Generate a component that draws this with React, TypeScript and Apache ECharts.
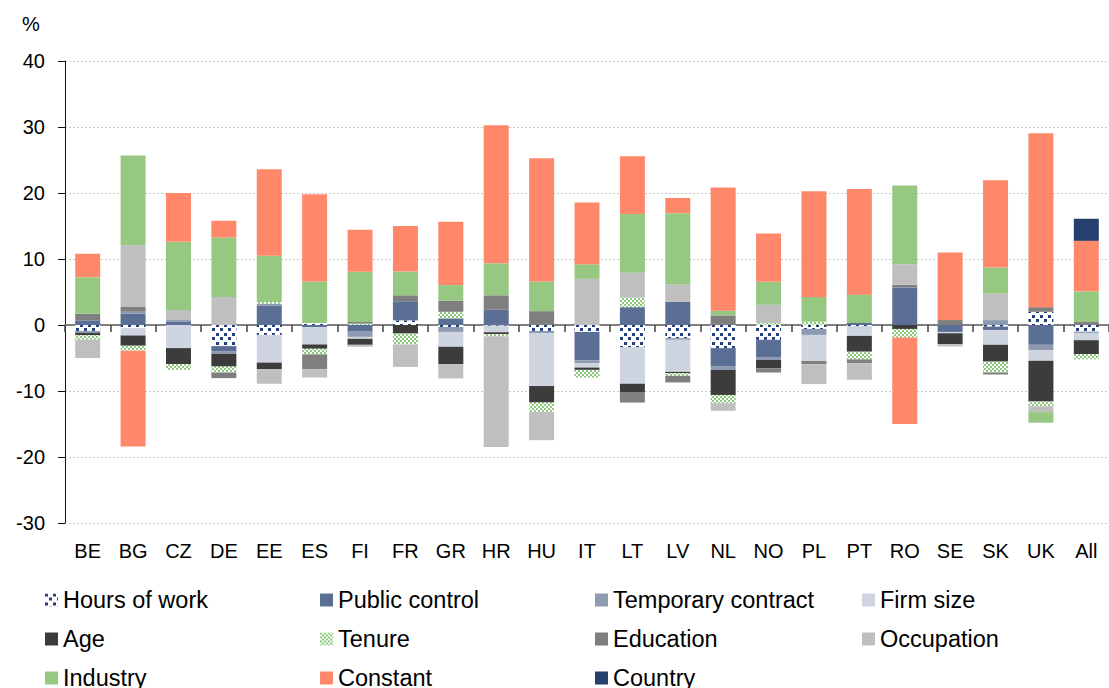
import React, { useEffect, useRef } from "react";
import * as echarts from "echarts";

const categories = ["BE","BG","CZ","DE","EE","ES","FI","FR","GR","HR","HU","IT","LT","LV","NL","NO","PL","PT","RO","SE","SK","UK","All"];

const hoursOfWork = [-0.9,-0.5,0,-3.2,-1.5,0.3,0,0.7,-0.3,-0.1,-0.9,-1.05,-3.35,-2.0,-3.5,-2.25,-0.6,-0.15,0,0,-0.25,2.0,-1.0];
const publicControl = [0.7,1.75,0.55,-0.75,2.9,-0.3,-1.0,2.9,1.0,2.3,0,-4.3,2.7,3.5,-2.8,-2.7,0,0.3,5.6,-1.05,-0.5,-3.0,0];
const temporaryContract = [-0.3,0.25,0.2,-0.4,0.35,0,-0.8,0,-0.75,0,-0.35,-0.45,0,-0.25,-0.5,-0.35,-0.9,0,0.15,0,0.75,-0.8,-0.2];
const firmSize = [0,-1.1,-3.5,0,-4.2,-2.65,-0.3,0,-2.25,-1.0,-8.0,-0.65,-5.55,-4.85,0,0,-3.95,-1.5,0,-0.2,-2.25,-1.6,-1.1];
const age = [-0.35,-1.55,-2.45,-1.95,-1.0,-0.65,-0.9,-1.3,-2.65,-0.3,-2.5,-0.35,-1.35,-0.2,-3.8,-1.25,0,-2.4,-0.6,-1.65,-2.55,-6.2,-2.1];
const tenure = [-0.65,-0.75,-0.85,-0.9,0.25,-0.85,0.2,-1.65,1.0,-0.3,-1.4,-1.15,1.45,-0.4,-1.25,0.3,0.5,-1.15,-1.3,0,-1.65,-0.7,-0.8];
const education = [1.0,0.8,0,-0.85,0,-2.25,0.25,0.9,1.7,2.2,2.1,0,-1.5,-1.0,1.45,-0.65,-0.5,-0.6,0.35,0.75,-0.3,0.7,0.45];
const occupation = [-2.8,9.3,1.5,4.25,-2.2,-1.25,-0.3,-3.4,-2.15,-16.8,-4.3,7.0,3.75,2.65,-1.15,2.75,-3.0,-2.5,3.1,-0.35,4.0,-0.9,0];
const industry = [5.55,13.6,10.35,9.0,7.0,6.3,7.6,3.6,2.35,4.85,4.5,2.2,8.9,10.8,0.7,3.5,3.75,4.3,11.95,0,3.95,-1.6,4.65];
const constant = [3.55,-14.5,7.4,2.55,13.1,13.2,6.4,6.9,9.6,20.9,18.65,9.35,8.75,2.3,18.7,7.3,16.0,16.0,-13.1,10.25,13.25,26.35,7.65];
const country = [0,0,0,0,0,0,0,0,0,0,0,0,0,0,0,0,0,0,0,0,0,0,3.35];

const yTicks = [-30, -20, -10, 0, 10, 20, 30, 40];

const FONT = "'Liberation Sans', Arial, sans-serif";

function makeDots() {
  const c = document.createElement("canvas");
  c.width = 8; c.height = 9;
  const g = c.getContext("2d")!;
  g.fillStyle = "#ffffff"; g.fillRect(0, 0, 8, 9);
  g.fillStyle = "#24407A";
  g.fillRect(0, 0, 3, 3);
  g.fillRect(4, 4, 3, 3);
  return { image: c, repeat: "repeat" as const };
}
function makeChecker() {
  const c = document.createElement("canvas");
  c.width = 4; c.height = 4;
  const g = c.getContext("2d")!;
  g.fillStyle = "#ffffff"; g.fillRect(0, 0, 4, 4);
  g.fillStyle = "#8DC97A";
  g.fillRect(0, 0, 2, 2);
  g.fillRect(2, 2, 2, 2);
  return { image: c, repeat: "repeat" as const };
}

export default function App() {
  const ref = useRef<HTMLDivElement>(null);
  useEffect(() => {
    if (!ref.current) return;
    const chart = echarts.init(ref.current, null, { renderer: "svg" });
    const seriesDefs: [string, number[], any][] = [
      ["Hours of work", hoursOfWork, makeDots()],
      ["Public control", publicControl, "#5B6E93"],
      ["Temporary contract", temporaryContract, "#8D9AB2"],
      ["Firm size", firmSize, "#CED4E0"],
      ["Age", age, "#3C3C3C"],
      ["Tenure", tenure, makeChecker()],
      ["Education", education, "#7F7F7F"],
      ["Occupation", occupation, "#BFBFBF"],
      ["Industry", industry, "#97C882"],
      ["Constant", constant, "#FF886A"],
      ["Country", country, "#273F6F"],
    ];
    const colLeft = [45, 320, 595, 862];
    const rowCenter = [599, 638, 677];
    const legends = seriesDefs.map(([name], i) => ({
      left: colLeft[i % 4],
      top: rowCenter[Math.floor(i / 4)] - 11,
      padding: 0,
      itemWidth: 13,
      itemHeight: 13,
      icon: "rect",
      textStyle: { fontSize: 23.5, lineHeight: 22, color: "#000", fontFamily: FONT },
      selectedMode: false,
      data: [name],
    }));
    chart.setOption({
      animation: false,
      title: { text: "%", left: 17, top: 9, textStyle: { fontSize: 20, fontWeight: "normal", color: "#000", fontFamily: FONT } },
      legend: legends,
      grid: { left: 65, right: 0, top: 61, bottom: 165 },
      xAxis: [
        {
          type: "category",
          data: categories,
          position: "bottom",
          axisLine: { show: false, onZero: false },
          axisTick: { show: false },
          axisLabel: { fontSize: 20, color: "#000", margin: 18, fontFamily: FONT, interval: 0 },
        },
        {
          type: "category",
          data: categories,
          position: "bottom",
          axisLine: { show: true, onZero: true, lineStyle: { color: "#808080", width: 2 } },
          axisTick: { show: true, length: 7, lineStyle: { color: "#404040", width: 1.5 } },
          axisLabel: { show: false },
        },
      ],
      yAxis: {
        type: "value",
        min: -30,
        max: 40,
        interval: 10,
        axisLine: { show: true, lineStyle: { color: "#111", width: 1 } },
        axisTick: { show: true, length: 7, lineStyle: { color: "#111", width: 1 } },
        axisLabel: {
          fontSize: 20, color: "#000", margin: 20, fontFamily: FONT,
          formatter: (v: number) => (yTicks.includes(v) ? String(v) : ""),
        },
        splitLine: { show: true, lineStyle: { color: "#C8C8C8", type: [2, 2], width: 1 } },
      },
      series: seriesDefs.map(([name, data, color]) => ({
        name,
        type: "bar",
        stack: "total",
        xAxisIndex: 0,
        barWidth: 25,
        data,
        itemStyle: { color },
      })),
    });
    return () => chart.dispose();
  }, []);
  return <div ref={ref} style={{ position: "absolute", left: 0, top: 0, width: 1109, height: 688 }} />;
}
